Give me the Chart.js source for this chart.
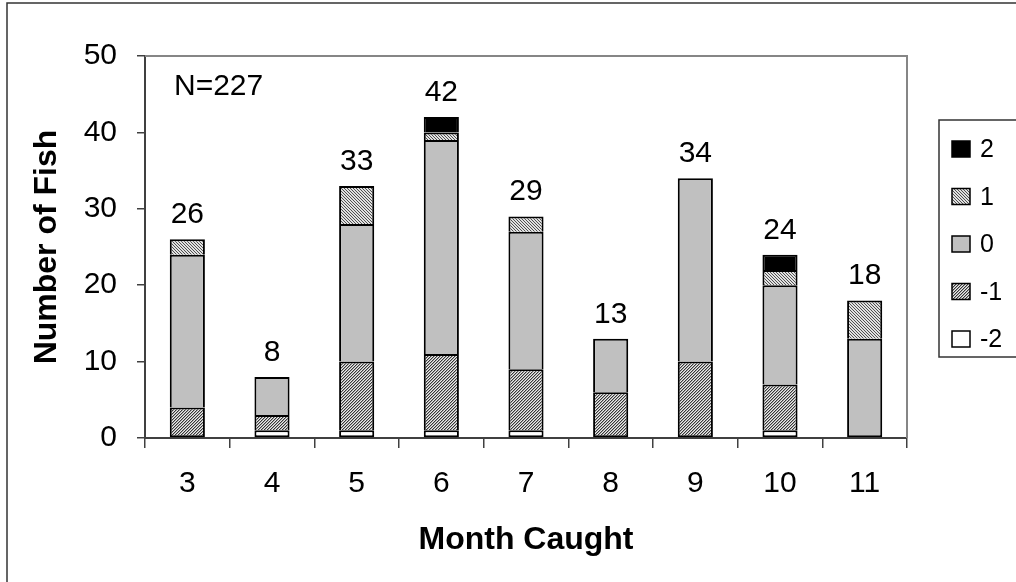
<!DOCTYPE html>
<html>
<head>
<meta charset="utf-8">
<script src="https://cdn.jsdelivr.net/npm/chart.js@4.4.1/dist/chart.umd.min.js"></script>
<style>
  html, body { margin: 0; padding: 0; background: #fff; }
  #wrap { width: 1016px; height: 582px; position: relative; }
</style>
</head>
<body>
<div id="wrap"><canvas id="c" width="1016" height="582"></canvas></div>
<script>
// Fish caught per month, split by class (-2 .. 2)
const months = ['3', '4', '5', '6', '7', '8', '9', '10', '11'];
const classMinus2 = [0, 1, 1, 1, 1, 0, 0, 1, 0];
const classMinus1 = [4, 2, 9, 10, 8, 6, 10, 6, 0];
const class0      = [20, 5, 18, 28, 18, 7, 24, 13, 13];
const class1      = [2, 0, 5, 1, 2, 0, 0, 2, 5];
const class2      = [0, 0, 0, 2, 0, 0, 0, 2, 0];
const yTicks = [0, 10, 20, 30, 40, 50];

const FONT = "'Liberation Sans', Arial, sans-serif";

// fine hatch fills
function makePattern(kind) {
  const t = document.createElement('canvas');
  t.width = 6; t.height = 6;
  const g = t.getContext('2d');
  const img = g.createImageData(6, 6);
  for (let y = 0; y < 6; y++) {
    for (let x = 0; x < 6; x++) {
      let v;
      if (kind === 'dense') {
        // dark upward diagonal
        const m = (x + y) % 3;
        v = m === 0 ? 55 : (m === 1 ? 165 : 235);
      } else {
        // light downward diagonal
        v = ((x - y + 6) % 3 === 0) ? 80 : 225;
      }
      const i = (y * 6 + x) * 4;
      img.data[i] = v; img.data[i + 1] = v; img.data[i + 2] = v; img.data[i + 3] = 255;
    }
  }
  g.putImageData(img, 0, 0);
  return g.createPattern(t, 'repeat');
}
const hatchDense = makePattern('dense');
const hatchLight = makePattern('light');

let datasets = [];

// lowest non-empty segment keeps its bottom edge; others share the edge below
function skipFor(c) {
  const i = c.dataIndex;
  for (let k = 0; k < c.datasetIndex; k++) {
    if (datasets[k].data[i]) return 'bottom';
  }
  return false;
}

function series(label, data, fill) {
  return {
    label, data,
    backgroundColor: fill,
    borderColor: '#000',
    borderWidth: c => (c.raw ? 2 : 0),
    borderSkipped: skipFor,
    categoryPercentage: 1.0,
    barPercentage: 0.415
  };
}

datasets = [
  series('-2', classMinus2, '#ffffff'),
  series('-1', classMinus1, hatchDense),
  series('0', class0, '#c0c0c0'),
  series('1', class1, hatchLight),
  series('2', class2, '#000000')
];

const totals = months.map((_, i) => datasets.reduce((s, d) => s + (d.data[i] || 0), 0));
const grandTotal = totals.reduce((a, b) => a + b, 0);

const decorations = {
  id: 'decorations',
  beforeDraw(chart) {
    const ctx = chart.ctx;
    ctx.save();
    ctx.fillStyle = '#fff';
    ctx.fillRect(0, 0, chart.width, chart.height);
    ctx.restore();
  },
  afterDraw(chart) {
    const ctx = chart.ctx;
    const a = chart.chartArea;
    const ys = chart.scales.y, xs = chart.scales.x;
    ctx.save();

    // plot frame (top and right)
    ctx.strokeStyle = '#868686';
    ctx.lineWidth = 2;
    ctx.beginPath();
    ctx.moveTo(a.left, a.top);
    ctx.lineTo(a.right, a.top);
    ctx.lineTo(a.right, a.bottom);
    ctx.stroke();

    // outer chart border
    ctx.strokeStyle = '#333';
    ctx.lineWidth = 1.5;
    ctx.strokeRect(7, 3, 1040, 620);

    // stack totals
    ctx.fillStyle = '#000';
    ctx.font = '30px ' + FONT;
    ctx.textAlign = 'center';
    ctx.textBaseline = 'alphabetic';
    totals.forEach((t, i) => {
      ctx.fillText(String(t), xs.getPixelForValue(i), ys.getPixelForValue(t) - 16);
    });

    // sample size
    ctx.textAlign = 'left';
    ctx.fillText('N=' + grandTotal, a.left + 29, a.top + 39);

    // legend
    const lx = 939, ly = 120;
    ctx.strokeStyle = '#333';
    ctx.lineWidth = 1.5;
    ctx.strokeRect(lx, ly, 120, 237);
    ctx.font = '25px ' + FONT;
    const order = datasets.slice().reverse();
    order.forEach((d, k) => {
      const base = 157 + k * 47.5;
      ctx.fillStyle = d.backgroundColor;
      ctx.fillRect(952, base - 16, 18, 16);
      ctx.strokeStyle = '#000';
      ctx.lineWidth = 1.5;
      ctx.strokeRect(952, base - 16, 18, 16);
      ctx.fillStyle = '#000';
      ctx.fillText(d.label, 980, base);
    });
    ctx.restore();
  }
};

new Chart(document.getElementById('c'), {
  type: 'bar',
  data: { labels: months, datasets },
  options: {
    responsive: false,
    animation: false,
    devicePixelRatio: 1,
    layout: { padding: { top: 56, right: 109, left: 0, bottom: 0 } },
    plugins: { legend: { display: false }, tooltip: { enabled: false } },
    scales: {
      x: {
        stacked: true,
        offset: true,
        grid: { offset: true, drawOnChartArea: false, drawTicks: true, tickLength: 10, color: '#404040', lineWidth: 1.5 },
        border: { display: true, color: '#404040', width: 2 },
        ticks: { color: '#000', font: { family: FONT, size: 30 }, padding: 18, maxRotation: 0 },
        title: { display: true, text: 'Month Caught', color: '#000', font: { family: FONT, size: 32, weight: 'bold' }, padding: { top: 0, bottom: 23 } },
        afterFit(s) { s.height = 144; }
      },
      y: {
        stacked: true,
        min: yTicks[0],
        max: yTicks[yTicks.length - 1],
        afterBuildTicks(s) { s.ticks = yTicks.map(v => ({ value: v })); },
        grid: { drawOnChartArea: false, drawTicks: true, tickLength: 8, color: '#404040', lineWidth: 1.5 },
        border: { display: true, color: '#404040', width: 2 },
        ticks: { color: '#000', font: { family: FONT, size: 30 }, padding: 20 },
        title: { display: true, text: 'Number of Fish', color: '#000', font: { family: FONT, size: 32, weight: 'bold' }, padding: { top: 28, bottom: 0 } },
        afterFit(s) { s.width = 145; }
      }
    }
  },
  plugins: [decorations]
});
</script>
</body>
</html>
